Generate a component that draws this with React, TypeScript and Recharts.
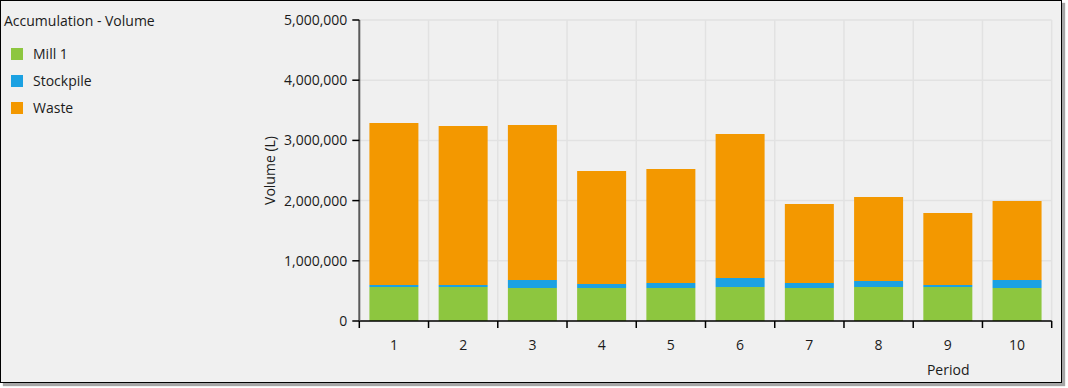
import React from 'react';
import { BarChart, Bar, XAxis, YAxis, CartesianGrid, Legend } from 'recharts';

const periods = ['1', '2', '3', '4', '5', '6', '7', '8', '9', '10'];
const mill1 = [565000, 565000, 548000, 548000, 548000, 565000, 548000, 565000, 565000, 548000];
const stockpile = [33000, 33000, 133000, 66000, 83000, 149000, 83000, 100000, 33000, 133000];
const waste = [2691000, 2641000, 2575000, 1877000, 1894000, 2392000, 1313000, 1396000, 1196000, 1312000];
const yTicks = [0, 1000000, 2000000, 3000000, 4000000, 5000000];

const seriesNames = ['Mill 1', 'Stockpile', 'Waste'];
const seriesColors = ['#8dc63f', '#1ba1e2', '#f39800'];

const data = periods.map((p, i) => ({
  period: p,
  mill1: mill1[i],
  stockpile: stockpile[i],
  waste: waste[i],
}));

const FONT = '"Open Sans", "Noto Sans", sans-serif';
const TEXT = '#1b1b1b';

const XTick = (props: any) => {
  const { x, y, payload, index, visibleTicksCount } = props;
  const half = payload && typeof payload.offset === 'number' && payload.offset > 0 ? payload.offset : 34.62;
  const axisY = y - 19;
  return (
    <g>
      <line x1={x - half} x2={x - half} y1={axisY} y2={axisY + 7} stroke="#000" strokeWidth={1.5} />
      {index === visibleTicksCount - 1 && (
        <line x1={x + half} x2={x + half} y1={axisY} y2={axisY + 7} stroke="#000" strokeWidth={1.5} />
      )}
      <text x={x} y={axisY + 29} textAnchor="middle" fill={TEXT} fontSize={14} fontFamily={FONT}>
        {payload.value}
      </text>
    </g>
  );
};

const LegendContent = (props: any) => {
  const payload = props.payload || [];
  return (
    <div style={{ position: 'relative', width: 240, height: 130, fontFamily: FONT, color: TEXT }}>
      <div style={{ position: 'absolute', left: 3, top: 10, fontSize: 14, lineHeight: '20px', whiteSpace: 'nowrap' }}>
        Accumulation - Volume
      </div>
      {payload.map((item: any, i: number) => (
        <div key={i} style={{ position: 'absolute', left: 10, top: 43 + i * 27, height: 20, display: 'flex', alignItems: 'center' }}>
          <div style={{ width: 12, height: 12, background: item.color }} />
          <span style={{ marginLeft: 10, fontSize: 14, lineHeight: '20px', whiteSpace: 'nowrap' }}>{item.value}</span>
        </div>
      ))}
    </div>
  );
};

const YLabel = (props: any) => {
  const { viewBox } = props;
  const cx = viewBox.x + 19;
  const cy = viewBox.y + viewBox.height / 2;
  return (
    <text x={cx} y={cy} dy="0.35em" textAnchor="middle" transform={`rotate(-90, ${cx}, ${cy})`} fill={TEXT} fontSize={14} fontFamily={FONT}>
      Volume (L)
    </text>
  );
};

const XLabel = (props: any) => {
  const { viewBox } = props;
  return (
    <text x={viewBox.x + viewBox.width - 103.5} y={viewBox.y + 54} textAnchor="middle" fill={TEXT} fontSize={14} fontFamily={FONT}>
      Period
    </text>
  );
};

export default function App() {
  return (
    <>
      <style>{'body{margin:0}'}</style>
      <div
        style={{
          position: 'absolute',
          left: 0,
          top: 0,
          width: 1062,
          height: 383,
          boxSizing: 'border-box',
          border: '1px solid #000',
          background: '#f0f0f0',
          boxShadow: '3px 3px 1px rgba(0,0,0,0.35)',
        }}
      >
        <BarChart
          width={1060}
          height={381}
          data={data}
          margin={{ top: 19, right: 9.3, bottom: 0, left: 250 }}
          barCategoryGap="14.6%"
          style={{ fontFamily: FONT }}
        >
          <CartesianGrid
            stroke="#e2e2e2"
            strokeWidth={1.5}
            verticalCoordinatesGenerator={({ offset }: any) =>
              Array.from({ length: periods.length + 1 }, (_, i) => offset.left + (i * offset.width) / periods.length)
            }
          />
          <XAxis
            dataKey="period"
            height={61}
            tickSize={7}
            tickMargin={12}
            tickLine={false}
            axisLine={{ stroke: '#000', strokeWidth: 1.5 }}
            tick={<XTick />}
            interval={0}
            label={<XLabel />}
          />
          <YAxis
            width={108.3}
            domain={[0, 5000000]}
            ticks={yTicks}
            interval={0}
            tickSize={7}
            tickMargin={5}
            tickLine={{ stroke: '#000', strokeWidth: 1.5 }}
            axisLine={{ stroke: '#5a5a5a', strokeWidth: 2 }}
            tick={{ fill: TEXT, fontSize: 14, fontFamily: FONT }}
            tickFormatter={(v: number) => v.toLocaleString('en-US')}
            label={<YLabel />}
          />
          <Legend
            layout="vertical"
            align="center"
            verticalAlign="middle"
            wrapperStyle={{ left: 0, top: 0, width: 240, height: 130 }}
            content={<LegendContent />}
          />
          <Bar dataKey="mill1" name={seriesNames[0]} stackId="a" fill={seriesColors[0]} isAnimationActive={false} />
          <Bar dataKey="stockpile" name={seriesNames[1]} stackId="a" fill={seriesColors[1]} isAnimationActive={false} />
          <Bar dataKey="waste" name={seriesNames[2]} stackId="a" fill={seriesColors[2]} isAnimationActive={false} />
        </BarChart>
      </div>
    </>
  );
}
